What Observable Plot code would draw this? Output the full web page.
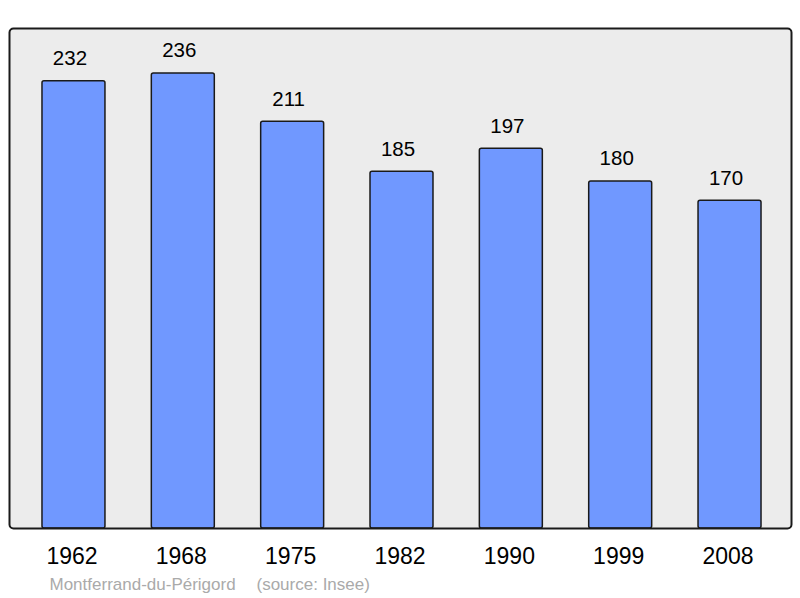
<!DOCTYPE html>
<html><head><meta charset="utf-8">
<script src="https://cdn.jsdelivr.net/npm/d3@7"></script>
<script src="https://cdn.jsdelivr.net/npm/@observablehq/plot@0.6"></script>
<style>body{margin:0;background:#fff}svg{font-family:"Liberation Sans",Arial,sans-serif}</style>
</head><body><div id="chart"></div>
<script>
const years = ["1962","1968","1975","1982","1990","1999","2008"];
const population = [232,236,211,185,197,180,170];
const placeName = "Montferrand-du-Périgord";
const sourceText = "(source: Insee)";
const data = years.map((y,i)=>({year:y, pop:population[i]}));

const chart = Plot.plot({
  width: 800, height: 598,
  marginLeft: 9, marginRight: 9, marginTop: 28, marginBottom: 70,
  style: {fontFamily: '"Liberation Sans", Arial, sans-serif', background: "#fff"},
  x: {domain: years, range: [18.8, 784.2], paddingInner: 0.424, paddingOuter: 0.212, round: false},
  y: {domain: [0, 259.3], axis: null},
  marks: [
    Plot.frame({fill: "#ececec", stroke: null, rx: 4}),
    Plot.barY(data, {x: "year", y: "pop", fill: "#7098ff", stroke: "#1a1a1a", strokeWidth: 1.5, rx: 2}),
    Plot.frame({fill: "none", stroke: "#1a1a1a", strokeWidth: 2, rx: 4}),
    Plot.text(data, {x: "year", y: "pop", text: d => String(d.pop), dy: -22.5, dx: -4, fontSize: 20.5, fill: "#000"}),
    Plot.axisX({tickSize: 0, fontSize: 23, tickPadding: 19, dx: -2, fill: "#000", label: null}),
    Plot.text([placeName], {frameAnchor: "bottom-left", dx: 40, dy: 61, textAnchor: "start", fill: "#aaaaaa", fontSize: 17}),
    Plot.text([sourceText], {frameAnchor: "bottom-left", dx: 247, dy: 61, textAnchor: "start", fill: "#aaaaaa", fontSize: 17})
  ]
});
document.getElementById("chart").appendChild(chart);
</script></body></html>
